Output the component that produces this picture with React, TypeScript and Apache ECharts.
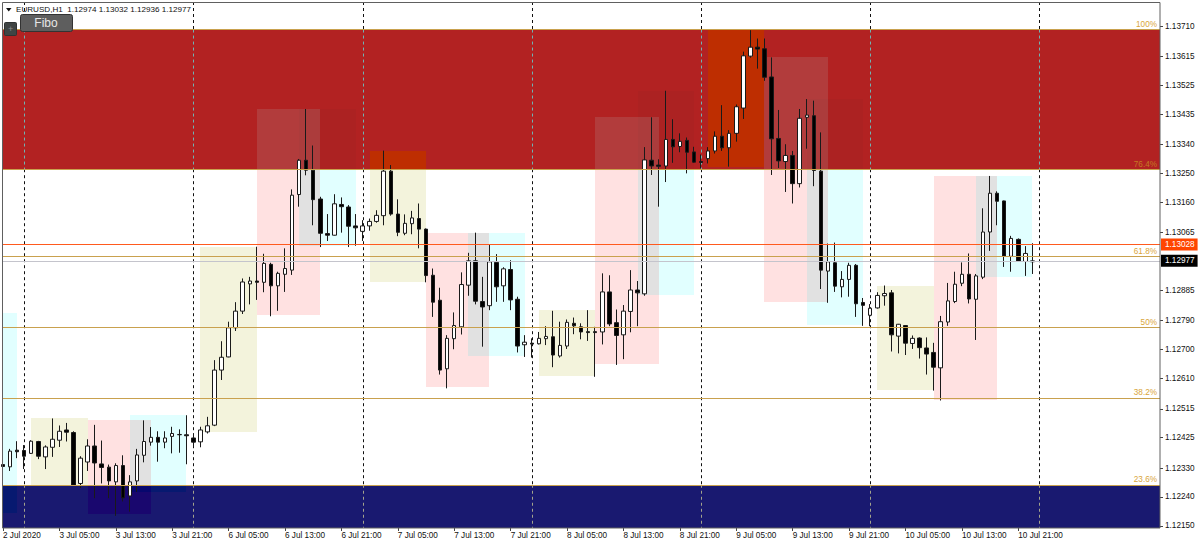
import React, { useEffect, useRef } from "react";
import * as echarts from "echarts";

const opens = [
  1.12341,1.12334,1.12386,1.12385,1.12376,1.12413,1.12365,1.12395,1.12417,1.12449,
  1.12441,1.12282,1.12349,1.12399,1.12343,1.12333,1.12287,1.12338,1.12243,1.1229,
  1.1237,1.12411,1.12426,1.12411,1.12429,1.12434,1.12434,1.12424,1.12412,1.12443,
  1.12464,1.12636,1.12677,1.12768,1.1282,1.12905,1.12914,1.1291,1.12966,1.12899,
  1.12935,1.12948,1.13184,1.13291,1.1326,1.1317,1.13062,1.13057,1.13153,1.13145,
  1.13086,1.13069,1.13086,1.131,1.13118,1.13257,1.13123,1.13063,1.13093,1.13109,
  1.13076,1.12932,1.12854,1.1264,1.12734,1.12771,1.12901,1.12977,1.1285,1.12837,
  1.12972,1.12899,1.1295,1.12857,1.12715,1.1272,1.12718,1.12734,1.1274,1.1268,
  1.12711,1.12782,1.12771,1.12756,1.12756,1.12755,1.1288,1.12784,1.12746,1.12819,
  1.12886,1.12874,1.13291,1.13276,1.13273,1.13356,1.13334,1.13353,1.13317,1.13287,
  1.13296,1.1332,1.13366,1.1333,1.13375,1.13454,1.13616,1.13644,1.13639,1.13551,
  1.13359,1.13287,1.13306,1.13218,1.13425,1.1343,1.13257,1.12945,1.12971,1.12896,
  1.12919,1.12963,1.12847,1.12807,1.1283,1.12868,1.12877,1.12742,1.12775,1.12719,
  1.12736,1.12705,1.12691,1.12643,1.12786,1.1285,1.12907,1.12935,1.12857,1.12926,
  1.13067,1.13188,1.13164,1.12991,1.13044,1.12975,1.12974,
];
const closes = [
  1.12335,1.12383,1.12381,1.12367,1.12414,1.12367,1.12396,1.1242,1.12445,1.12442,
  1.12277,1.12361,1.12399,1.12346,1.12332,1.1229,1.12338,1.12237,1.12287,1.12371,
  1.12413,1.12426,1.12411,1.12424,1.12438,1.12435,1.12431,1.12411,1.12449,1.12462,
  1.12636,1.12676,1.12768,1.1282,1.12911,1.12914,1.1291,1.12969,1.12899,1.12938,
  1.12953,1.13182,1.13291,1.1326,1.13168,1.13063,1.13057,1.13155,1.13146,1.13085,
  1.1308,1.13086,1.131,1.13119,1.13257,1.13123,1.13066,1.13094,1.13111,1.13076,
  1.12931,1.12848,1.12636,1.12735,1.12775,1.12903,1.12977,1.12851,1.12833,1.12974,
  1.12896,1.12952,1.12855,1.12711,1.12723,1.12717,1.12735,1.12741,1.12683,1.12713,
  1.12785,1.12774,1.12755,1.12753,1.12753,1.1288,1.1278,1.12744,1.1282,1.12886,
  1.12877,1.13292,1.13273,1.13272,1.13356,1.13333,1.1335,1.13316,1.13285,1.13284,
  1.1332,1.13366,1.1333,1.13375,1.13458,1.13617,1.13644,1.13638,1.1355,1.13358,
  1.13289,1.13306,1.13218,1.13422,1.13432,1.13259,1.12948,1.12974,1.12898,1.12919,
  1.12963,1.12843,1.12838,1.12829,1.12869,1.12875,1.12746,1.12779,1.1272,1.12735,
  1.12706,1.12686,1.12645,1.12787,1.12852,1.12904,1.12935,1.12858,1.1293,1.13067,
  1.13188,1.13163,1.12992,1.13047,1.12976,1.13,1.12977,
];
const lows = [
  1.12324,1.12321,1.12361,1.12327,1.12374,1.12358,1.12327,1.12365,1.12396,1.12413,
  1.12274,1.12268,1.12321,1.12236,1.12282,1.12236,1.12181,1.12226,1.12194,1.12256,
  1.12348,1.124,1.1235,1.12392,1.12376,1.12378,1.12342,1.12395,1.12395,1.12438,
  1.12461,1.12605,1.12676,1.12758,1.12811,1.12841,1.12855,1.12879,1.12804,1.12821,
  1.1288,1.12933,1.13146,1.13244,1.13088,1.1302,1.13039,1.13056,1.13065,1.1302,
  1.13024,1.13039,1.13071,1.13096,1.13088,1.13118,1.13054,1.13057,1.1306,1.13016,
  1.1291,1.12802,1.12622,1.12579,1.12701,1.12747,1.12868,1.12841,1.12709,1.12823,
  1.12849,1.12849,1.12823,1.12691,1.12677,1.12675,1.12716,1.12714,1.12645,1.12675,
  1.12702,1.12748,1.12732,1.12727,1.12615,1.12716,1.12773,1.12652,1.1267,1.12754,
  1.12773,1.12868,1.13245,1.13146,1.13223,1.13283,1.13316,1.1325,1.13283,1.13266,
  1.13281,1.13312,1.1332,1.13271,1.13349,1.1342,1.13611,1.13577,1.13539,1.13245,
  1.13267,1.13192,1.13156,1.13206,1.13327,1.1321,1.12889,1.12846,1.1288,1.12863,
  1.12865,1.12802,1.12774,1.12773,1.12828,1.12837,1.12694,1.12688,1.12683,1.12702,
  1.12672,1.12622,1.12572,1.12541,1.12774,1.12845,1.12898,1.12844,1.1273,1.1292,
  1.13008,1.13088,1.12958,1.12943,1.12975,1.1293,1.12936,
];
const highs = [
  1.12346,1.1239,1.12414,1.12402,1.12417,1.12415,1.12401,1.12485,1.12463,1.12471,
  1.12445,1.12367,1.1242,1.12465,1.12416,1.12341,1.12345,1.1237,1.12308,1.1239,
  1.12479,1.12458,1.12445,1.12445,1.12459,1.12451,1.12495,1.12438,1.12459,1.1249,
  1.12667,1.12726,1.12787,1.12848,1.12922,1.12927,1.13021,1.12999,1.12971,1.12943,
  1.13016,1.132,1.13295,1.13451,1.13337,1.13177,1.13123,1.13185,1.13175,1.13151,
  1.13123,1.13104,1.13109,1.13135,1.13321,1.13276,1.13169,1.13122,1.13133,1.13156,
  1.13078,1.12953,1.12893,1.12745,1.12816,1.12941,1.13002,1.13065,1.12927,1.13029,
  1.12998,1.12957,1.12979,1.12865,1.12745,1.12735,1.12755,1.12773,1.12821,1.12787,
  1.12794,1.128,1.12782,1.12823,1.12771,1.12938,1.12932,1.12825,1.12839,1.12948,
  1.12914,1.13332,1.13425,1.13294,1.13508,1.13419,1.13375,1.13362,1.13333,1.13309,
  1.13332,1.13381,1.13463,1.13385,1.13465,1.1363,1.13697,1.13671,1.13671,1.13612,
  1.13448,1.13341,1.1332,1.13451,1.13482,1.13477,1.13378,1.13031,1.13034,1.12945,
  1.12971,1.12967,1.12861,1.12842,1.12879,1.129,1.12886,1.1278,1.12776,1.12744,
  1.12738,1.12738,1.12721,1.12805,1.12908,1.12943,1.12972,1.13,1.12936,1.13141,
  1.13242,1.13194,1.13165,1.13055,1.13047,1.13023,1.13032,
];

const xTickLabels = [
  "2 Jul 2020","3 Jul 05:00","3 Jul 13:00","3 Jul 21:00","6 Jul 05:00","6 Jul 13:00","6 Jul 21:00",
  "7 Jul 05:00","7 Jul 13:00","7 Jul 21:00","8 Jul 05:00","8 Jul 13:00","8 Jul 21:00",
  "9 Jul 05:00","9 Jul 13:00","9 Jul 21:00","10 Jul 05:00","10 Jul 13:00","10 Jul 21:00",
];
const yTicks = [
  1.1371,1.13615,1.13525,1.13435,1.1334,1.1325,1.1316,1.13065,1.12885,1.1279,
  1.127,1.1261,1.12515,1.12425,1.1233,1.1224,1.1215,
];
const daySeparators = [3, 27, 51, 75, 99, 123, 147];

// Session boxes
const zoneStarts = [-6, 4, 12, 18, 28, 36, 42, 52, 60, 66, 76, 84, 90, 100, 108, 114, 124, 132, 138];
const zoneEnds = [2, 12, 21, 26, 36, 45, 50, 60, 69, 74, 84, 93, 98, 108, 117, 122, 132, 141, 146];
const zoneHighs = [
  1.12814,1.12486,1.1248,1.12495,1.13021,1.13451,1.13451,1.13321,1.13065,1.13065,
  1.12823,1.13426,1.13508,1.137,1.13613,1.13482,1.129,1.13243,1.13243,
];
const zoneLows = [
  1.1219,1.12274,1.12186,1.12255,1.12442,1.12808,1.13023,1.12912,1.12582,1.1268,
  1.12618,1.12655,1.1287,1.13271,1.12848,1.12776,1.12573,1.12544,1.12927,
];
const zoneKinds = ["c","b","p","c","b","p","c","b","p","c","b","p","c","b","p","c","b","p","c"];

const fiboLevels = [1.13699, 1.13263, 1.1299, 1.1277, 1.12549, 1.12278];
const fiboNames = ["100%", "76.4%", "61.8%", "50%", "38.2%", "23.6%"];
const bidPrice = 1.12977;
const askPrice = 1.13028;
const headerText = "EURUSD,H1  1.12974 1.13032 1.12936 1.12977";

const PRICE_MAX = 1.13785;
const PRICE_MIN = 1.12143;
const BAR_MIN = -0.142;
const BAR_MAX = 164.1;
const RED = 0xb22222;
const NAVY = 0x191970;
const WHITE = 0xffffff;
const XOR: Record<string, number> = { p: 0x001e1e, c: 0x1e0000, b: 0x0c0c23 };
const FONT = "'Liberation Sans', Arial, sans-serif";

const hex = (n: number) => "#" + n.toString(16).padStart(6, "0");
const uniqSorted = (a: number[]) => Array.from(new Set(a)).sort((p, q) => p - q);

function bandColor(price: number) {
  if (price < fiboLevels[0] && price > fiboLevels[1]) return RED;
  if (price < fiboLevels[5]) return NAVY;
  return WHITE;
}

// Rectangles are XORed on the background, as in the trading terminal
function buildPieces() {
  const pieces: (number | string)[][] = [];
  const xs = uniqSorted([BAR_MIN, BAR_MAX, ...zoneStarts.filter((v) => v > BAR_MIN), ...zoneEnds]);
  const bandEdges = [PRICE_MIN, fiboLevels[5], fiboLevels[1], fiboLevels[0], PRICE_MAX];
  for (let i = 0; i < xs.length - 1; i++) {
    const mid = (xs[i] + xs[i + 1]) / 2;
    const cover = zoneStarts.map((_, k) => k).filter((k) => zoneStarts[k] < mid && zoneEnds[k] > mid);
    const ys = uniqSorted([...bandEdges, ...cover.flatMap((k) => [zoneHighs[k], zoneLows[k]])]).filter(
      (v) => v >= PRICE_MIN && v <= PRICE_MAX
    );
    let start = ys[0];
    let prev = -1;
    for (let j = 0; j < ys.length; j++) {
      let c = -1;
      if (j < ys.length - 1) {
        const m = (ys[j] + ys[j + 1]) / 2;
        c = bandColor(m);
        cover.forEach((k) => {
          if (zoneLows[k] < m && zoneHighs[k] > m) c ^= XOR[zoneKinds[k]];
        });
      }
      if (c !== prev) {
        if (prev !== -1 && prev !== WHITE) pieces.push([xs[i], xs[i + 1], start, ys[j], hex(prev)]);
        start = ys[j];
        prev = c;
      }
    }
  }
  return pieces;
}

function buildSeparators() {
  const segs: (number | string)[][] = [];
  daySeparators.forEach((x) => {
    segs.push([x, PRICE_MAX, fiboLevels[0], "#111111"]);
    segs.push([x, fiboLevels[0], fiboLevels[1], "#6fb4b4"]);
    segs.push([x, fiboLevels[1], fiboLevels[5], "#111111"]);
    segs.push([x, fiboLevels[5], PRICE_MIN, "#a3a38c"]);
  });
  return segs;
}

const fiboLabelColors = ["#d9a53a", "#c47a22", "#d9a53a", "#d9a53a", "#d9a53a", "#d9a53a"];

export default function App() {
  const ref = useRef<HTMLDivElement>(null);
  useEffect(() => {
    document.body.style.margin = "0";
    const chart = echarts.init(ref.current!, null, { renderer: "svg" });
    const pieces = buildPieces();
    const seps = buildSeparators();
    chart.setOption({
      animation: false,
      backgroundColor: "#ffffff",
      grid: { left: 2, top: 2, width: 1158, height: 526, show: false, containLabel: false },
      xAxis: {
        type: "value",
        min: BAR_MIN,
        max: BAR_MAX,
        splitLine: { show: false },
        axisLine: { show: false, onZero: false },
        axisTick: {
          show: true,
          length: 3,
          lineStyle: { color: "#444444" },
          customValues: xTickLabels.map((_, k) => k * 8),
        },
        axisLabel: {
          show: true,
          customValues: xTickLabels.map((_, k) => k * 8),
          formatter: (v: number) => xTickLabels[Math.round(v / 8)] ?? "",
          align: "left",
          margin: 3,
          fontSize: 8.2,
          fontFamily: FONT,
          color: "#111111",
          hideOverlap: false,
        },
      },
      yAxis: {
        type: "value",
        position: "right",
        min: PRICE_MIN,
        max: PRICE_MAX,
        scale: true,
        splitLine: { show: false },
        axisLine: { show: false, onZero: false },
        axisTick: { show: true, length: 3, lineStyle: { color: "#444444" }, customValues: yTicks },
        axisLabel: {
          show: true,
          customValues: yTicks,
          formatter: (v: number) => v.toFixed(5),
          margin: 5,
          fontSize: 8.2,
          fontFamily: FONT,
          color: "#111111",
          hideOverlap: false,
        },
      },
      series: [
        {
          type: "custom",
          name: "zones",
          z: 1,
          silent: true,
          clip: true,
          coordinateSystem: "cartesian2d",
          encode: { x: [0, 1], y: [2, 3] },
          data: pieces,
          renderItem: (params: any, api: any) => {
            const a = api.coord([api.value(0), api.value(3)]);
            const b = api.coord([api.value(1), api.value(2)]);
            const x0 = Math.round(a[0]);
            const y0 = Math.round(a[1]);
            const x1 = Math.round(b[0]);
            const y1 = Math.round(b[1]);
            return {
              type: "rect",
              shape: { x: x0, y: y0, width: x1 - x0, height: y1 - y0 },
              style: { fill: pieces[params.dataIndex][4] as string },
            };
          },
        },
        {
          type: "custom",
          name: "separators",
          z: 2,
          silent: true,
          clip: true,
          coordinateSystem: "cartesian2d",
          encode: { x: 0, y: [1, 2] },
          data: seps,
          renderItem: (params: any, api: any) => {
            const a = api.coord([api.value(0), api.value(1)]);
            const b = api.coord([api.value(0), api.value(2)]);
            const x = Math.round(a[0]) + 0.5;
            return {
              type: "line",
              shape: { x1: x, y1: a[1], x2: x, y2: b[1] },
              style: { stroke: seps[params.dataIndex][3] as string, lineWidth: 1, lineDash: [3, 3] },
            };
          },
        },
        {
          type: "candlestick",
          name: "EURUSD,H1",
          z: 3,
          barWidth: 4,
          clip: false,
          silent: true,
          encode: { x: 0, y: [1, 2, 3, 4] },
          itemStyle: {
            color: "#ffffff",
            color0: "#000000",
            borderColor: "#1a1a1a",
            borderColor0: "#1a1a1a",
            borderWidth: 1,
          },
          data: opens.map((o, i) => [i, o, closes[i], lows[i], highs[i]]),
        },
        {
          type: "line",
          name: "levels",
          z: 5,
          silent: true,
          showSymbol: false,
          lineStyle: { opacity: 0, width: 0 },
          data: [
            [BAR_MIN, askPrice],
            [BAR_MAX, askPrice],
          ],
          markLine: {
            silent: true,
            symbol: "none",
            animation: false,
            precision: 5,
            data: [
              ...fiboLevels.map((v, i) => ({
                yAxis: v,
                lineStyle: { color: "#c9a14e", width: 1.2, type: "solid" },
                label: {
                  show: true,
                  position: "insideEndTop",
                  formatter: fiboNames[i],
                  color: fiboLabelColors[i],
                  fontSize: 8.2,
                  fontFamily: FONT,
                  distance: 1,
                  padding: [0, 2, 0, 0],
                },
              })),
              {
                yAxis: bidPrice,
                lineStyle: { color: "#c4c4cc", width: 1, type: "solid" },
                label: {
                  show: true,
                  position: "end",
                  formatter: bidPrice.toFixed(5),
                  color: "#ffffff",
                  backgroundColor: "#000000",
                  fontSize: 8.2,
                  fontFamily: FONT,
                  padding: [2, 3, 2, 4],
                  distance: 1,
                },
              },
              {
                yAxis: askPrice,
                lineStyle: { color: "#ff5a1e", width: 1, type: "solid" },
                label: {
                  show: true,
                  position: "end",
                  formatter: askPrice.toFixed(5),
                  color: "#ffffff",
                  backgroundColor: "#ff4500",
                  fontSize: 8.2,
                  fontFamily: FONT,
                  padding: [2, 3, 2, 4],
                  distance: 1,
                },
              },
            ],
          },
        },
      ],
      graphic: [
        {
          type: "rect",
          z: 20,
          silent: true,
          shape: { x: 2.5, y: 2.5, width: 1157.5, height: 525.5 },
          style: { fill: "none", stroke: "#606060", lineWidth: 1 },
        },
        {
          type: "polygon",
          z: 21,
          silent: true,
          shape: { points: [[6, 8], [11.5, 8], [8.75, 11.5]] },
          style: { fill: "#111111" },
        },
        {
          type: "text",
          z: 21,
          silent: true,
          x: 16,
          y: 5,
          style: { text: headerText, fontSize: 8.1, fontFamily: FONT, fill: "#111111" },
        },
        {
          type: "rect",
          z: 21,
          silent: true,
          shape: { x: 4.5, y: 22.5, width: 12, height: 13, r: 1 },
          style: { fill: "#3f4444", stroke: "#2f3333", lineWidth: 1 },
        },
        {
          type: "text",
          z: 22,
          silent: true,
          x: 10.5,
          y: 29,
          style: { text: "+", fontSize: 9, fontFamily: FONT, fill: "#8d8d8d", align: "center", verticalAlign: "middle" },
        },
        {
          type: "rect",
          z: 21,
          silent: true,
          shape: { x: 20.5, y: 14.5, width: 52, height: 17, r: 2 },
          style: { fill: "#5e5e5e", stroke: "#333333", lineWidth: 1 },
        },
        {
          type: "text",
          z: 22,
          silent: true,
          x: 46,
          y: 23,
          style: { text: "Fibo", fontSize: 12, fontFamily: FONT, fill: "#e6e6e6", align: "center", verticalAlign: "middle" },
        },
      ],
    });
    return () => chart.dispose();
  }, []);
  return <div ref={ref} style={{ width: 1200, height: 547 }} />;
}
